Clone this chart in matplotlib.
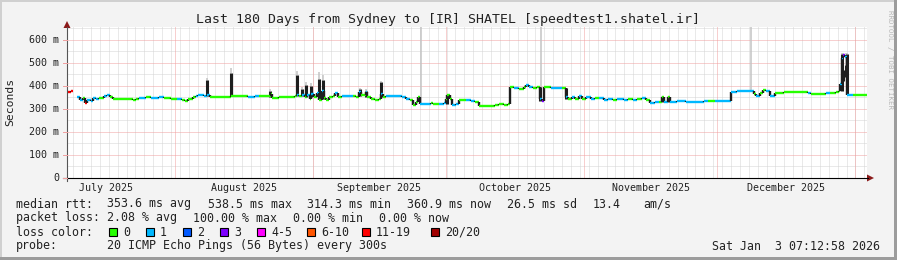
import matplotlib
matplotlib.use('Agg')
import matplotlib.pyplot as plt
from matplotlib.collections import LineCollection
from matplotlib.patches import Rectangle, Polygon
import numpy as np

# time axis: days since 2025-07-01 00:00 (window = last 180 days)
t_start, t_end = 6.7, 186.7
month_starts = [31, 62, 92, 123, 153, 184]
month_labels = ['July 2025', 'August 2025', 'September 2025', 'October 2025',
                'November 2025', 'December 2025']
month_mids = [15.5, 46.5, 77.0, 107.5, 138.0, 168.5]

# median rtt (ms) with loss class index per sample
med_day = [6.8, 7.6, 8.1, 9.0, 9.6, 10.2, 10.8, 11.3, 12.0, 12.6, 13.2, 14.0, 15.0, 15.6,
           16.3, 17.0, 19.0, 21.3, 21.6, 22.2, 23.0, 24.5, 25.5, 27.5, 28.5, 30.0, 31.5,
           32.5, 33.3, 34.0, 35.0, 35.7, 36.2, 37.5, 38.2, 38.8, 41.0, 43.6, 44.5, 46.5,
           47.5, 49.0, 50.0, 52.2, 52.5, 52.9, 54.5, 56.5, 58.0, 58.5, 59.0, 59.6, 60.2,
           60.8, 61.3, 61.7, 62.2, 63.0, 63.5, 64.0, 64.5, 65.0, 65.6, 66.5, 67.0, 67.6,
           68.5, 70.0, 71.0, 71.8, 72.4, 72.9, 73.9, 74.3, 75.0, 76.0, 76.8, 77.4, 77.8,
           78.5, 81.0, 82.0, 83.0, 83.8, 84.6, 85.2, 85.6, 86.2, 87.0, 88.5, 89.0, 90.5,
           91.5, 92.0, 92.3, 92.9, 93.3, 94.2, 95.0, 96.5, 97.5, 98.5, 99.5, 101.5, 103.0,
           104.0, 105.0, 106.0, 106.4, 107.3, 108.5, 109.5, 110.0, 110.6, 111.5, 112.5,
           113.1, 113.2, 113.6, 114.0, 115.5, 117.0, 118.0, 118.8, 119.0, 119.5, 120.3,
           121.0, 121.8, 122.5, 123.5, 124.5, 125.5, 126.5, 127.5, 128.5, 129.5, 130.5,
           132.0, 133.0, 134.0, 135.0, 136.0, 137.0, 137.8, 139.0, 140.0, 140.6, 141.0,
           141.9, 142.3, 144.0, 146.0, 148.0, 150.0, 151.0, 152.5, 154.0, 155.8, 156.0,
           157.5, 159.0, 160.5, 161.3, 161.8, 162.6, 163.2, 164.0, 164.8, 165.3, 166.0,
           168.0, 170.0, 172.0, 173.5, 174.0, 176.0, 177.5, 178.4, 179.8, 180.4, 180.7,
           181.0, 181.3, 181.7, 182.1, 182.3, 183.5, 185.0, 186.7]
med_ms = [374, 378, np.nan, 350, 340, 346, 326, 340, 335, 348, 342, 349, 355, 361,
          352, 345, 345, 345, 339, 343, 349, 350, 349, 350, 347, 345, 343,
          340, 334, 345, 350, 358, 362, 357, 362, 354, 354, 357, 357, 358,
          353, 356, 357, 355, 365, 348, 350, 354, 356, 360, 357, 362, 352,
          362, 345, 365, 350, 370, 339, 380, 346, 339, 350, 355, 368, 352,
          358, 357, 355, 353, 375, 360, 375, 350, 343, 338, 345, 365, 350,
          355, 355, 352, 345, 338, 318, 330, 350, 322, 322, 325, 321, 323,
          325, 345, 361, 345, 317, 320, 338, 340, 335, 330, 314, 313, 316,
          322, 318, 320, 395, 390, 388, 397, 404, 395, 393, 394,
          395, 345, 333, 395, 392, 390, 392, 393, 350, 343, 350,
          345, 358, 345, 352, 343, 347, 348, 341, 345, 340, 342,
          338, 345, 340, 343, 348, 340, 326, 330, 332, 352, 330,
          352, 330, 333, 332, 330, 335, 333, 335, 333, 336, 375,
          377, 380, 378, 366, 356, 370, 382, 378, 358, 355, 368,
          372, 373, 372, 370, 366, 366, 368, 368, 372, 380, 410,
          520, 535, 528, 500, 362, 360, 361, 361]
med_loss = [6, 6, 0, 1, 1, 0, 6, 1, 1, 1, 1, 0, 1, 1,
            0, 0, 0, 0, 0, 0, 1, 0, 1, 1, 0, 0, 1,
            0, 0, 0, 0, 1, 1, 1, 1, 0, 0, 0, 0, 0,
            1, 1, 0, 0, 0, 0, 0, 0, 0, 1, 0, 1, 0,
            1, 0, 1, 0, 1, 0, 1, 0, 0, 0, 0, 1, 0,
            1, 1, 0, 0, 1, 0, 1, 0, 0, 0, 0, 1, 0,
            1, 1, 1, 1, 0, 0, 0, 0, 1, 1, 0, 0, 1,
            1, 0, 0, 0, 1, 1, 0, 1, 1, 0, 0, 0, 0,
            0, 0, 0, 0, 1, 0, 0, 1, 1, 0, 0,
            0, 1, 3, 0, 1, 1, 0, 0, 1, 0, 1,
            0, 1, 0, 1, 1, 0, 1, 1, 1, 0, 1,
            1, 0, 1, 0, 1, 0, 1, 1, 0, 0, 1,
            0, 1, 1, 1, 1, 1, 0, 1, 1, 1, 1,
            1, 1, 1, 0, 1, 0, 0, 1, 1, 1, 0,
            0, 0, 0, 1, 0, 0, 1, 0, 0, 0, 1,
            1, 3, 1, 0, 1, 0, 0, 0]

# smoke: day, low, top of dense smoke, top of light smoke (ms)
smoke_day = [38.2, 43.6, 52.4, 58.5, 59.6, 60.5, 61.6, 63.4, 64.3, 72.6, 74.0, 77.4,
             86.4, 92.2, 113.2, 113.4, 118.9, 140.6, 141.9, 160.6, 181.0, 181.4, 181.9, 182.2]
smoke_lo = [355, 355, 350, 355, 355, 350, 350, 345, 345, 355, 350, 350,
            322, 320, 335, 340, 345, 330, 330, 378, 378, 420, 440, 365]
smoke_dark = [425, 455, 378, 448, 388, 405, 402, 432, 426, 386, 378, 416,
              322, 361, 395, 340, 390, 352, 352, 378, 540, 470, 490, 540]
smoke_top = [435, 478, 385, 465, 396, 417, 413, 461, 448, 392, 385, 422,
             700, 365, 395, 700, 393, 355, 355, 700, 545, 545, 545, 545]

loss_names = ['0', '1', '2', '3', '4-5', '6-10', '11-19', '20/20']
loss_colors = ['#26ff00', '#00b8ff', '#0059ff', '#7e00ff', '#ff00ff', '#ff5500',
               '#ff0000', '#a10000']

W, H = 897, 260
fig = plt.figure(figsize=(W / 100, H / 100), dpi=100)
fig.patch.set_facecolor('#f3f3f3')

ax = fig.add_axes([67 / W, (H - 178) / H, 800 / W, 151 / H])
ax.set_facecolor('white')
ax.set_xlim(t_start, t_end)
ax.set_ylim(0, 656.5)
for s in ax.spines.values():
    s.set_visible(False)
ax.set_xticks([])
ax.set_yticks([])

mono = 'DejaVu Sans Mono'
dot = (0, (1, 1))

# grid
for v in np.arange(50, 656, 100):
    ax.axhline(v, color='#d4d4d4', lw=0.72, ls=dot, zorder=1)
for d in np.arange(8.1, t_end, 2.0):
    ax.axvline(d, color='#d4d4d4', lw=0.72, ls=dot, zorder=1)
for v in np.arange(100, 656, 100):
    ax.axhline(v, color='#f0a0a0', lw=0.72, ls=dot, zorder=1.5)
for d in month_starts:
    ax.axvline(d, color='#f0a0a0', lw=0.72, ls=dot, zorder=1.5)

# smoke
ax.vlines(smoke_day, smoke_dark, smoke_top, colors='#c4c4c4', lw=1.1, zorder=2)
ax.vlines(smoke_day, smoke_lo, smoke_dark, colors='#1e1e1e', lw=2.2, zorder=2.5)

# median line, stepped, coloured by loss
segs, cols = [], []
for i in range(len(med_day) - 1):
    v0, v1 = med_ms[i], med_ms[i + 1]
    if np.isnan(v0):
        continue
    segs.append([(med_day[i], v0), (med_day[i + 1], v0)])
    cols.append(loss_colors[med_loss[i]])
    if not np.isnan(v1):
        segs.append([(med_day[i + 1], v0), (med_day[i + 1], v1)])
        cols.append('#1e1e1e')
ax.add_collection(LineCollection(segs, colors=cols, linewidths=1.7, zorder=3,
                                 capstyle='butt'))

# overlay in pixel coords for axes, arrows and texts
ov = fig.add_axes([0, 0, 1, 1])
ov.set_xlim(0, W)
ov.set_ylim(H, 0)
ov.axis('off')
ov.patch.set_visible(False)

# frame
ov.add_patch(Rectangle((0, 0), W, 2, color='#d0d0d0', lw=0))
ov.add_patch(Rectangle((0, 0), 2, H, color='#d0d0d0', lw=0))
ov.add_patch(Rectangle((0, H - 3), W, 3, color='#9c9c9c', lw=0))
ov.add_patch(Rectangle((W - 3, 0), 3, H, color='#9c9c9c', lw=0))

# axes lines and arrows
ov.plot([67, 67], [181, 27], color='#555555', lw=0.8)
ov.plot([63, 868], [178, 178], color='black', lw=0.8)
ov.add_patch(Polygon([(63.5, 28), (70.5, 28), (67, 21)], color='#8b1a1a', lw=0))
ov.add_patch(Polygon([(867, 174.5), (867, 181.5), (874, 178)], color='#8b1a1a', lw=0))

# y tick labels
for v, lab in zip(range(0, 601, 100), ['0', '100 m', '200 m', '300 m', '400 m', '500 m', '600 m']):
    y = 178 - v * 0.23
    ov.text(59, y, lab, family=mono, fontsize=7.2, ha='right', va='center', color='#222222')
    ov.plot([63, 67], [y, y], color='#f0a0a0', lw=0.72)

# month labels
for m, lab in zip(month_mids, month_labels):
    x = 67 + (m - t_start) / (t_end - t_start) * 800
    ov.text(x, 188, lab, family=mono, fontsize=7.2, ha='center', va='center', color='#222222')

ov.text(448, 19, 'Last 180 Days from Sydney to [IR] SHATEL [speedtest1.shatel.ir]',
        family=mono, fontsize=9.5, ha='center', va='center', color='#222222')
ov.text(10, 102, 'Seconds', family=mono, fontsize=8.2, rotation=90, ha='center',
        va='center', color='#222222')
ov.text(890, 60, 'RRDTOOL / TOBI OETIKER', family=mono, fontsize=5.3, rotation=270,
        ha='center', va='center', color='#b8b8b8')

# legend
lg = dict(family=mono, fontsize=8.4, va='center', color='#222222')
row1 = [(16, 'median rtt:'), (107, '353.6 ms avg'), (208, '538.5 ms max'),
        (307, '314.3 ms min'), (407, '360.9 ms now'), (507, '26.5 ms sd'),
        (593, '13.4'), (643, 'am/s')]
row2 = [(16, 'packet loss:'), (107, '2.08 % avg'), (193, '100.00 % max'),
        (293, '0.00 % min'), (379, '0.00 % now')]
for x, s in row1:
    ov.text(x, 204, s, **lg)
for x, s in row2:
    ov.text(x, 218, s, **lg)
ov.text(16, 232, 'loss color:', **lg)
box_x = [109, 146, 183, 220, 257, 307, 362, 431]
for bx, name, c in zip(box_x, loss_names, loss_colors):
    ov.add_patch(Rectangle((bx, 228), 8, 8, facecolor=c, edgecolor='black', lw=0.8))
    ov.text(bx + 14, 232, name, **lg)
ov.text(16, 246, 'probe:', **lg)
ov.text(107, 246, '20 ICMP Echo Pings (56 Bytes) every 300s', **lg)
ov.text(880, 246, 'Sat Jan  3 07:12:58 2026', ha='right', **lg)

fig.savefig('out.png', dpi=100, facecolor=fig.get_facecolor())
